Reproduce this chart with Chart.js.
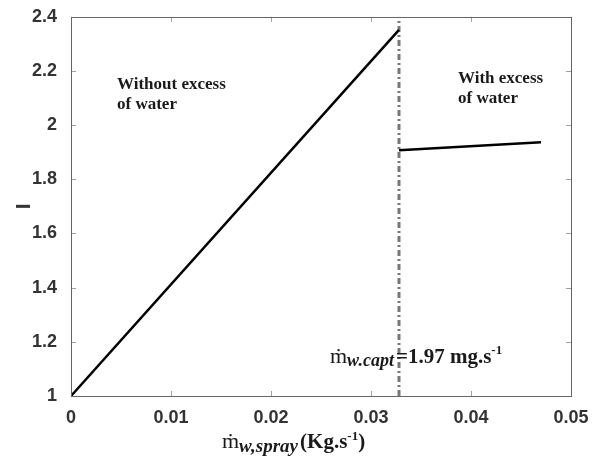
<!DOCTYPE html>
<html>
<head>
<meta charset="utf-8">
<script src="https://cdn.jsdelivr.net/npm/chart.js@4/dist/chart.umd.min.js"></script>
<style>
  html, body { margin: 0; padding: 0; background: #ffffff; }
  #wrap { width: 601px; height: 458px; }
</style>
</head>
<body>
<div id="wrap"><canvas id="chart" width="601" height="458"></canvas></div>
<script>
// Spray mass flow (kg/s) against the index I
const riseX = [0, 0.0328];
const riseY = [1, 2.352];
const excessX = [0.0328, 0.047];
const excessY = [1.907, 1.937];
// capture threshold marker (1.97 mg/s)
const captureX = [0.0328, 0.0328];
const captureY = [1, 2.4];

const xTickLabels = ['0', '0.01', '0.02', '0.03', '0.04', '0.05'];
const yTickLabels = ['1', '1.2', '1.4', '1.6', '1.8', '2', '2.2', '2.4'];

const toPoints = (xs, ys) => xs.map((x, i) => ({ x: x, y: ys[i] }));

const SERIF = '"Liberation Serif", "Times New Roman", serif';
const SANS = '"Liberation Sans", Arial, sans-serif';

// draw a run of differently styled text pieces left to right
function drawRich(ctx, x, y, parts) {
  let cx = x;
  parts.forEach(p => {
    ctx.font = p.font;
    ctx.fillText(p.text, cx, y + (p.dy || 0));
    cx += ctx.measureText(p.text).width + (p.gap || 0);
  });
}

// MATLAB-style box with inward ticks, axis titles and the text notes
const boxAndNotes = {
  id: 'boxAndNotes',
  afterDatasetsDraw(chart) {
    const { ctx, chartArea: a, scales } = chart;
    ctx.save();
    // inward ticks on all four sides
    ctx.strokeStyle = '#a0a0a0';
    ctx.lineWidth = 1;
    const tl = 5;
    scales.x.ticks.forEach(t => {
      const px = Math.round(scales.x.getPixelForValue(t.value)) + 0.5;
      ctx.beginPath();
      ctx.moveTo(px, a.bottom); ctx.lineTo(px, a.bottom - tl);
      ctx.moveTo(px, a.top); ctx.lineTo(px, a.top + tl);
      ctx.stroke();
    });
    scales.y.ticks.forEach(t => {
      const py = Math.round(scales.y.getPixelForValue(t.value)) + 0.5;
      ctx.beginPath();
      ctx.moveTo(a.left, py); ctx.lineTo(a.left + tl, py);
      ctx.moveTo(a.right, py); ctx.lineTo(a.right - tl, py);
      ctx.stroke();
    });
    // frame
    ctx.strokeStyle = '#666666';
    ctx.lineWidth = 1;
    ctx.strokeRect(Math.round(a.left) + 0.5, Math.round(a.top) + 0.5,
                   Math.round(a.right - a.left), Math.round(a.bottom - a.top));

    ctx.fillStyle = '#1a1a1a';
    ctx.textBaseline = 'alphabetic';
    ctx.textAlign = 'left';
    // region notes
    ctx.font = 'bold 17px ' + SERIF;
    ctx.fillText('Without excess', 117, 89);
    ctx.fillText('of water', 117, 109);
    ctx.fillText('With excess', 458, 83);
    ctx.fillText('of water', 458, 103);

    // capture threshold note
    drawRich(ctx, 330, 363, [
      { text: '\u1E41', font: '22px ' + SERIF },
      { text: 'w.capt', font: 'bold italic 18px ' + SERIF, dy: 3, gap: 2 },
      { text: '=1.97 mg.s', font: 'bold 21px ' + SERIF },
      { text: '-1', font: 'bold 13px ' + SERIF, dy: -9 }
    ]);

    // x-axis title
    drawRich(ctx, 222, 448, [
      { text: '\u1E41', font: '22px ' + SERIF },
      { text: 'w,spray', font: 'bold italic 19px ' + SERIF, dy: 4, gap: 2 },
      { text: '(Kg.s', font: 'bold 21px ' + SERIF },
      { text: '-1', font: 'bold 13px ' + SERIF, dy: -8 },
      { text: ')', font: 'bold 21px ' + SERIF }
    ]);

    // y-axis title
    ctx.save();
    ctx.translate(24, (a.top + a.bottom) / 2);
    ctx.rotate(-Math.PI / 2);
    ctx.textAlign = 'center';
    ctx.textBaseline = 'middle';
    ctx.fillStyle = '#333333';
    ctx.font = 'bold 21px ' + SANS;
    ctx.fillText('I', 0, 0);
    ctx.restore();

    ctx.restore();
  }
};

new Chart(document.getElementById('chart'), {
  type: 'scatter',
  data: {
    datasets: [
      {
        data: toPoints(riseX, riseY),
        showLine: true, borderColor: '#000000', borderWidth: 2.5,
        pointRadius: 0, tension: 0
      },
      {
        data: toPoints(excessX, excessY),
        showLine: true, borderColor: '#000000', borderWidth: 2.5,
        pointRadius: 0, tension: 0
      },
      {
        data: toPoints(captureX, captureY),
        showLine: true, borderColor: '#777777', borderWidth: 3,
        borderDash: [6, 3, 2, 3], pointRadius: 0, tension: 0
      }
    ]
  },
  options: {
    responsive: false,
    animation: false,
    events: [],
    layout: { padding: { top: 15, right: 30, left: 0, bottom: 0 } },
    plugins: { legend: { display: false }, tooltip: { enabled: false } },
    scales: {
      x: {
        type: 'linear', min: 0, max: 0.05,
        afterFit: s => { s.height = 62; },
        grid: { display: false },
        border: { display: false },
        ticks: {
          stepSize: 0.01, padding: 3, color: '#333333',
          font: { family: SANS, size: 18, weight: 'bold' },
          maxRotation: 0,
          callback: (v, i) => xTickLabels[i]
        }
      },
      y: {
        type: 'linear', min: 1, max: 2.4,
        afterFit: s => { s.width = 71; },
        grid: { display: false },
        border: { display: false },
        ticks: {
          stepSize: 0.2, padding: 6, color: '#333333',
          font: { family: SANS, size: 18, weight: 'bold' },
          callback: (v, i) => yTickLabels[i]
        }
      }
    }
  },
  plugins: [boxAndNotes]
});
</script>
</body>
</html>
